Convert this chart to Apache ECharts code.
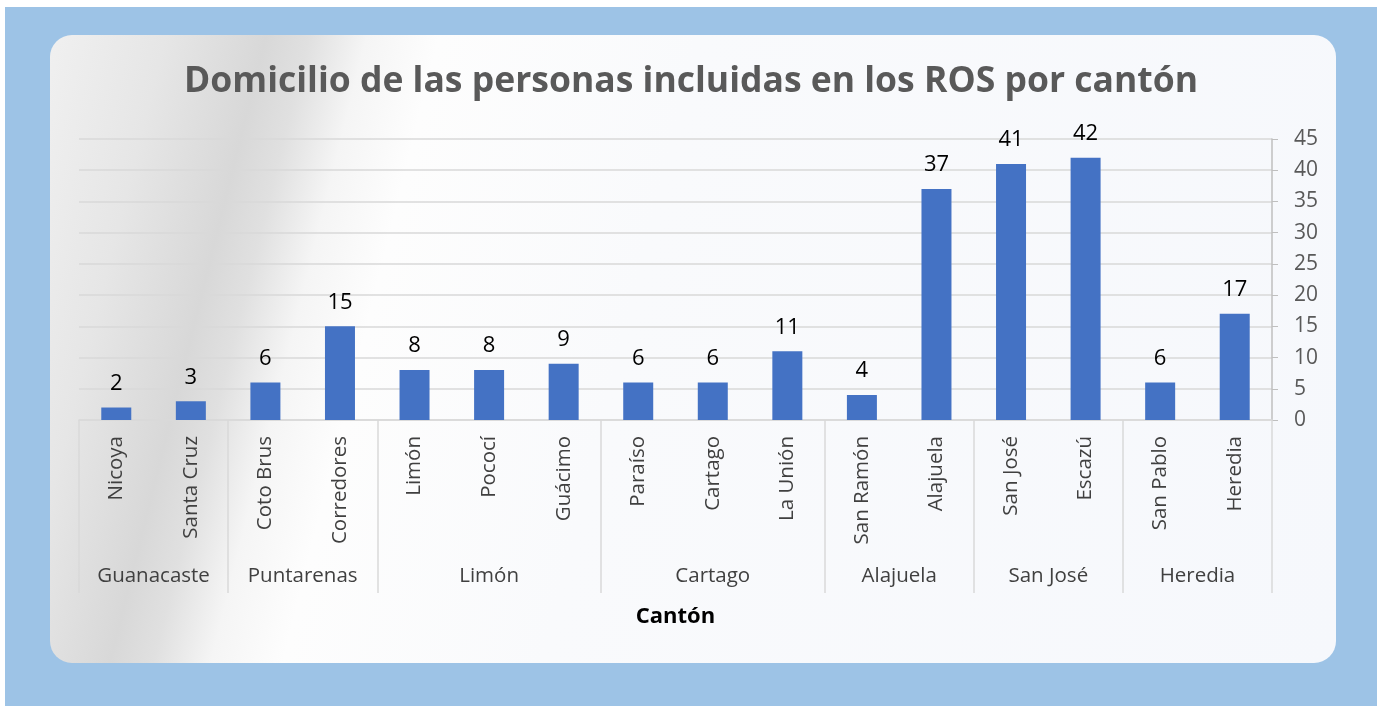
<!DOCTYPE html>
<html>
<head>
<meta charset="utf-8">
<script src="https://cdn.jsdelivr.net/npm/echarts@6.0.0/dist/echarts.min.js"></script>
<style>
	body { margin: 0; background: #ffffff; }
	#outer { position: absolute; left: 5px; top: 7px; width: 1372px; height: 699px; background: #9dc3e6; }
	#panel {
		position: absolute; left: 50px; top: 35px; width: 1286px; height: 628px; border-radius: 22px;
		background: linear-gradient(104deg, #f0f0f0 0%, #e6e6e6 8%, #d8d8d8 15%, #e0e0e0 18%, #f5f5f5 22%, #fdfdfd 27%, #f9fafc 45%, #f6f8fc 100%);
	}
	#main { position: absolute; left: 0; top: 0; width: 1382px; height: 706px; }
</style>
</head>
<body>
<div id="outer"></div>
<div id="panel"></div>
<div id="main"></div>
<script>
// cantones y sus valores
const cantons = ['Nicoya', 'Santa Cruz', 'Coto Brus', 'Corredores', 'Limón', 'Pococí', 'Guácimo',
	'Paraíso', 'Cartago', 'La Unión', 'San Ramón', 'Alajuela', 'San José', 'Escazú', 'San Pablo', 'Heredia']
const values = [2, 3, 6, 15, 8, 8, 9, 6, 6, 11, 4, 37, 41, 42, 6, 17]

// provincias (grupo superior del eje) y cuántos cantones tiene cada una
const provinces = ['Guanacaste', 'Puntarenas', 'Limón', 'Cartago', 'Alajuela', 'San José', 'Heredia']
const provinceCounts = [2, 2, 3, 3, 2, 2, 2]

const yTicks = [0, 5, 10, 15, 20, 25, 30, 35, 40, 45]

// limites y centros de cada grupo, en unidades de categoria
const bounds = [0]
provinceCounts.forEach(n => bounds.push(bounds[bounds.length - 1] + n))
const mids = provinces.map((p, i) => (bounds[i] + bounds[i + 1]) / 2)

const font = '"Open Sans", sans-serif'
const chart = echarts.init(document.getElementById('main'))

const option = {
	backgroundColor: 'transparent',
	title: {
		text: 'Domicilio de las personas incluidas en los ROS por cantón',
		left: 'center',
		top: 59,
		textStyle: { fontFamily: font, fontSize: 35.5, fontWeight: 'bold', color: '#595959' },
	},
	grid: { left: 79, right: 110, top: 139, bottom: 286, containLabel: false },
	xAxis: [
		{
			type: 'category',
			data: cantons,
			axisLine: { show: true, lineStyle: { color: '#d9d9d9', width: 1.5 } },
			axisTick: { show: false },
			axisLabel: { rotate: 90, margin: 16, fontFamily: font, fontSize: 20.5, color: '#404040', interval: 0 },
			splitLine: { show: false },
		},
		{
			type: 'value',
			min: 0,
			max: cantons.length,
			position: 'bottom',
			axisLine: { show: false },
			splitLine: { show: false },
			axisTick: { show: true, customValues: bounds, length: 173, lineStyle: { color: '#d9d9d9', width: 1.5 } },
			axisLabel: {
				customValues: mids,
				margin: 146,
				fontFamily: font, fontSize: 20.5, color: '#404040',
				formatter: v => provinces[mids.indexOf(v)] || '',
			},
			name: 'Cantón',
			nameLocation: 'middle',
			nameGap: 186,
			nameTextStyle: { fontFamily: font, fontSize: 22, fontWeight: 'bold', color: '#000000' },
		},
	],
	yAxis: {
		type: 'value',
		position: 'right',
		min: yTicks[0],
		max: yTicks[yTicks.length - 1],
		interval: yTicks[1] - yTicks[0],
		axisLine: { show: true, onZero: false, lineStyle: { color: '#bfbfbf', width: 1.5 } },
		axisTick: { show: true, length: 6, lineStyle: { color: '#bfbfbf' } },
		axisLabel: { margin: 22, fontFamily: font, fontSize: 21, color: '#595959' },
		splitLine: { show: true, lineStyle: { color: '#d9d9d9', width: 1.5 } },
	},
	series: [{
		type: 'bar',
		xAxisIndex: 0,
		data: values,
		barWidth: 30,
		itemStyle: { color: '#4472c4' },
		label: { show: true, position: 'top', distance: 13, fontFamily: font, fontSize: 22, color: '#000000' },
	}],
}

chart.setOption(option)
</script>
</body>
</html>
